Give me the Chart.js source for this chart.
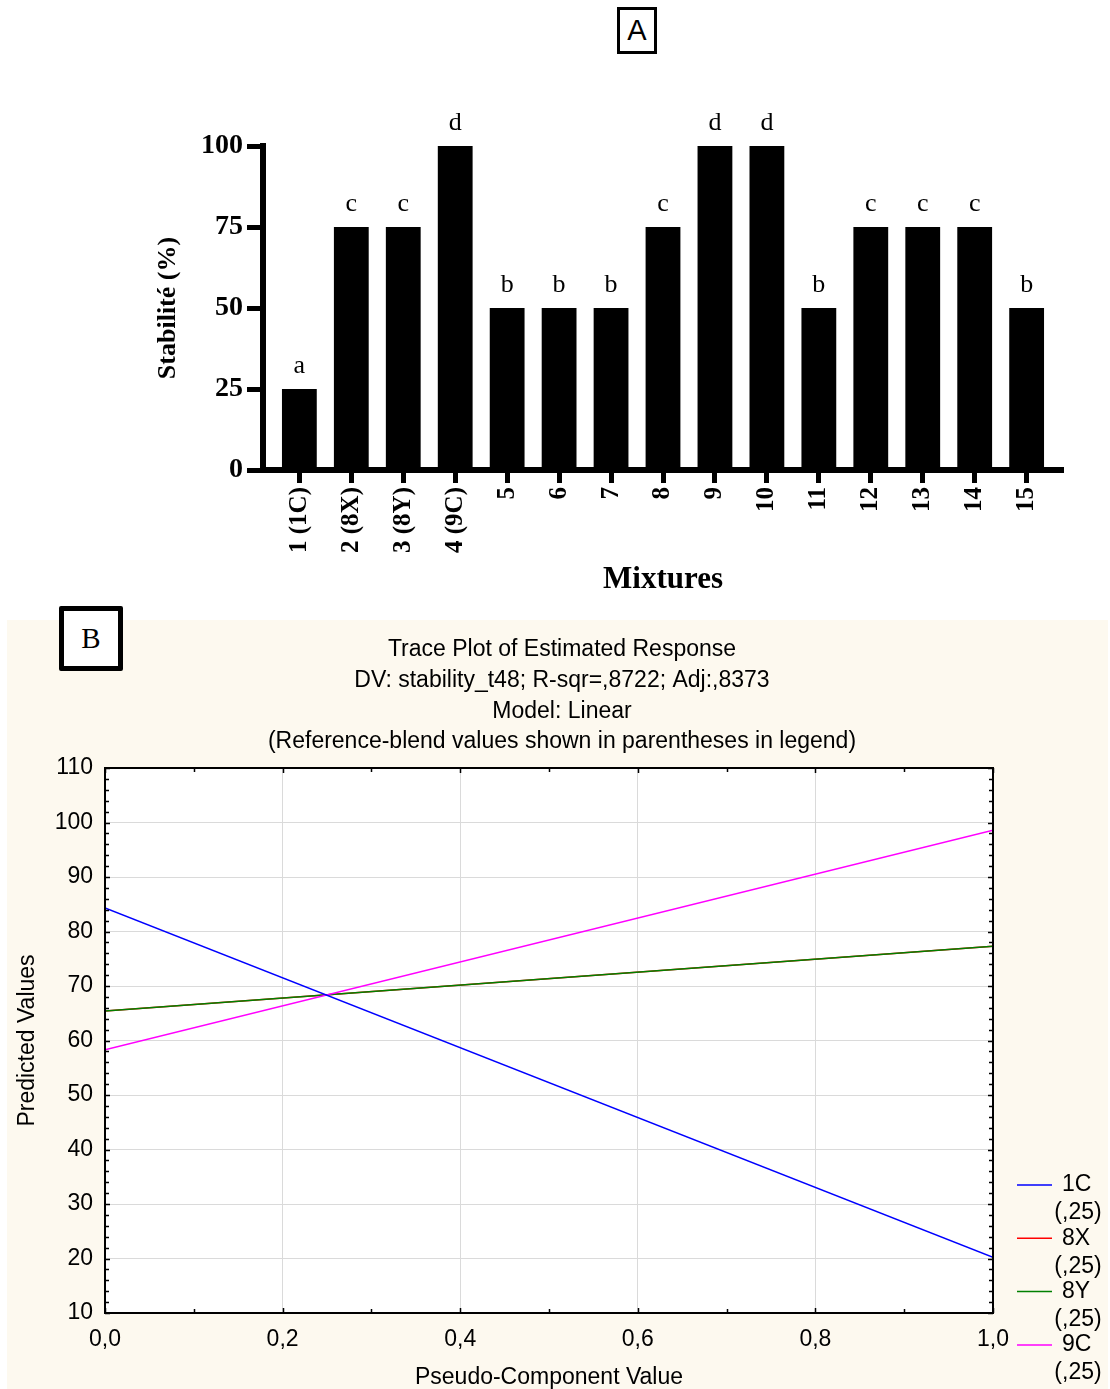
<!DOCTYPE html>
<html>
<head>
<meta charset="utf-8">
<title>Stabilité des mélanges</title>
<script src="https://cdn.jsdelivr.net/npm/chart.js@4.4.1/dist/chart.umd.min.js"></script>
<style>
  html, body { margin: 0; padding: 0; background: #fff; }
  body { width: 1110px; height: 1389px; position: relative; overflow: hidden; }
  #panelA { position: absolute; left: 0; top: 0; width: 1110px; height: 600px; }
  #panelB { position: absolute; left: 7px; top: 620px; width: 1101px; height: 769px; background: #fdf9ef; }
  canvas { display: block; }
  .tag { position: absolute; box-sizing: border-box; border: solid #000; background: #fff;
         display: flex; align-items: center; justify-content: center; color: #000; }
  #tagA { left: 617px; top: 7px; width: 40px; height: 47px; border-width: 3px;
          font: 29px "Liberation Sans", Arial, sans-serif; }
  #tagB { left: 59px; top: 606px; width: 64px; height: 65px; border-width: 5px; border-radius: 2px;
          font: 29px "Liberation Serif", "Times New Roman", serif; }
</style>
</head>
<body>
<div id="panelA"><canvas id="chartA" width="1110" height="600" style="width:1110px;height:600px"></canvas></div>
<div id="panelB"><canvas id="chartB" width="1101" height="769" style="width:1101px;height:769px"></canvas></div>
<div class="tag" id="tagA">A</div>
<div class="tag" id="tagB">B</div>

<script>
// ---- Panel A: stability of each mixture ----
const mixtures = ['1 (1C)', '2 (8X)', '3 (8Y)', '4 (9C)', '5', '6', '7', '8', '9', '10', '11', '12', '13', '14', '15'];
const stability = [25, 75, 75, 100, 50, 50, 50, 75, 100, 100, 50, 75, 75, 75, 50];
const groups = ['a', 'c', 'c', 'd', 'b', 'b', 'b', 'c', 'd', 'd', 'b', 'c', 'c', 'c', 'b'];
const stabilityTicks = [0, 25, 50, 75, 100];

// ---- Panel B: trace plot of the fitted linear model ----
const pseudoValues = [0, 1];
const pseudoTicks = [0, 0.2, 0.4, 0.6, 0.8, 1.0];
const predictedTicks = [10, 20, 30, 40, 50, 60, 70, 80, 90, 100, 110];
const componentNames = ['1C', '8X', '8Y', '9C'];
const referenceBlend = '(,25)';
const trace1C = [84.3, 20.2];
const trace8X = [65.4, 77.3];
const trace8Y = [65.4, 77.3];
const trace9C = [58.3, 98.6];
const titleLines = [
  'Trace Plot of Estimated Response',
  'DV: stability_t48; R-sqr=,8722; Adj:,8373',
  'Model: Linear',
  '(Reference-blend values shown in parentheses in legend)'
];

const serif = '"Liberation Serif", "Times New Roman", serif';
const sans = '"Liberation Sans", Arial, sans-serif';

// letters of the statistical groups above each bar
const groupLetters = {
  id: 'groupLetters',
  afterDatasetsDraw(chart) {
    const ctx = chart.ctx;
    const meta = chart.getDatasetMeta(0);
    ctx.save();
    ctx.font = '26px ' + serif;
    ctx.fillStyle = '#000';
    ctx.textAlign = 'center';
    ctx.textBaseline = 'alphabetic';
    meta.data.forEach((bar, i) => ctx.fillText(groups[i], bar.x, bar.y - 16));
    ctx.restore();
  }
};

new Chart(document.getElementById('chartA'), {
  type: 'bar',
  data: {
    datasets: [{
      data: stability.map((v, i) => ({ x: i, y: v })),
      backgroundColor: '#000',
      borderWidth: 0,
      barPercentage: 0.67,
      categoryPercentage: 1
    }]
  },
  options: {
    responsive: false,
    animation: false,
    events: [],
    layout: { padding: { top: 146, right: 47, left: 0, bottom: 0 } },
    plugins: { legend: { display: false }, tooltip: { enabled: false } },
    scales: {
      x: {
        type: 'linear',
        offset: false,
        min: -0.7,
        max: 14.7,
        afterBuildTicks: s => { s.ticks = mixtures.map((_, i) => ({ value: i })); },
        afterFit: s => { s.height = 130; },
        grid: { offset: false, drawOnChartArea: false, drawTicks: true, tickLength: 13, tickWidth: 5, tickColor: '#000' },
        border: { display: true, color: '#000', width: 6 },
        ticks: {
          autoSkip: false, minRotation: 90, maxRotation: 90, padding: 4, color: '#000',
          font: { family: serif, weight: 'bold', size: 25 },
          callback: v => mixtures[v]
        },
        title: {
          display: true, text: 'Mixtures', color: '#000',
          font: { family: serif, weight: 'bold', size: 31 },
          padding: { top: 0, bottom: 1 }
        }
      },
      y: {
        min: 0,
        max: 100,
        afterBuildTicks: s => { s.ticks = stabilityTicks.map(v => ({ value: v })); },
        afterFit: s => { s.width = 263; },
        grid: { drawOnChartArea: false, drawTicks: true, tickLength: 16, tickWidth: 5, tickColor: '#000' },
        border: { display: true, color: '#000', width: 6 },
        ticks: { padding: 4, color: '#000', font: { family: serif, weight: 'bold', size: 28 } },
        title: {
          display: true, text: 'Stabilité (%)', color: '#000',
          font: { family: serif, weight: 'bold', size: 26 },
          padding: { top: 153, bottom: 0 }
        }
      }
    }
  },
  plugins: [groupLetters]
});

// white plot area, frame with minor ticks, centred title block and legend
const tracePlotDecor = {
  id: 'tracePlotDecor',
  beforeDraw(chart) {
    const { ctx, chartArea: a } = chart;
    ctx.save();
    ctx.fillStyle = '#fff';
    ctx.fillRect(a.left, a.top, a.right - a.left, a.bottom - a.top);
    ctx.restore();
  },
  afterDatasetsDraw(chart) {
    const { ctx, chartArea: a, scales } = chart;
    ctx.save();
    ctx.strokeStyle = '#000';
    ctx.lineWidth = 1.5;
    ctx.beginPath();
    for (let v = 10; v <= 110; v += 2) {
      const y = Math.round(scales.y.getPixelForValue(v)) + 0.5;
      const len = v % 10 === 0 ? 5 : 4;
      ctx.moveTo(a.left, y); ctx.lineTo(a.left + len, y);
      ctx.moveTo(a.right, y); ctx.lineTo(a.right - len, y);
    }
    for (let k = 0; k <= 10; k++) {
      const x = Math.round(scales.x.getPixelForValue(k / 10)) + 0.5;
      const len = k % 2 === 0 ? 5 : 4;
      ctx.moveTo(x, a.top); ctx.lineTo(x, a.top + len);
      ctx.moveTo(x, a.bottom); ctx.lineTo(x, a.bottom - len);
    }
    ctx.stroke();
    ctx.lineWidth = 2;
    ctx.strokeRect(a.left, a.top, a.right - a.left, a.bottom - a.top);
    ctx.restore();
  },
  afterDraw(chart) {
    const ctx = chart.ctx;
    ctx.save();
    ctx.fillStyle = '#000';
    ctx.font = '23px ' + sans;
    ctx.textAlign = 'center';
    ctx.textBaseline = 'middle';
    titleLines.forEach((line, i) => ctx.fillText(line, 555, 30 + i * 30.7));

    chart.data.datasets.forEach((ds, i) => {
      const y = 565 + i * 53.3;
      ctx.strokeStyle = ds.borderColor;
      ctx.lineWidth = 1.5;
      ctx.beginPath();
      ctx.moveTo(1010, y); ctx.lineTo(1045, y);
      ctx.stroke();
      ctx.textAlign = 'left';
      ctx.fillText(ds.label, 1055, y);
      ctx.textAlign = 'center';
      ctx.fillText(referenceBlend, 1071, y + 28);
    });
    ctx.restore();
  }
};

const toPoints = vals => vals.map((v, i) => ({ x: pseudoValues[i], y: v }));

new Chart(document.getElementById('chartB'), {
  type: 'line',
  data: {
    datasets: [
      { label: componentNames[0], data: toPoints(trace1C), borderColor: '#0000ff', order: 0 },
      { label: componentNames[1], data: toPoints(trace8X), borderColor: '#ff0000', order: 2 },
      { label: componentNames[2], data: toPoints(trace8Y), borderColor: '#008000', order: 1 },
      { label: componentNames[3], data: toPoints(trace9C), borderColor: '#ff00ff', order: 0 }
    ]
  },
  options: {
    responsive: false,
    animation: false,
    events: [],
    elements: { point: { radius: 0 }, line: { borderWidth: 1.5, tension: 0, fill: false } },
    layout: { padding: { top: 148, right: 115, left: 0, bottom: 0 } },
    plugins: { legend: { display: false }, tooltip: { enabled: false } },
    scales: {
      x: {
        type: 'linear',
        min: 0,
        max: 1,
        afterBuildTicks: s => { s.ticks = pseudoTicks.map(v => ({ value: v })); },
        afterFit: s => { s.height = 76; },
        grid: { color: '#dadada', lineWidth: 1, drawTicks: false },
        border: { display: false },
        ticks: {
          padding: 13, color: '#000', font: { family: sans, size: 23 },
          callback: v => v.toFixed(1).replace('.', ',')
        },
        title: {
          display: true, text: 'Pseudo-Component Value', color: '#000',
          font: { family: sans, size: 23 }, padding: { top: 0, bottom: -2 }
        }
      },
      y: {
        min: 10,
        max: 110,
        afterBuildTicks: s => { s.ticks = predictedTicks.map(v => ({ value: v })); },
        afterFit: s => { s.width = 98; },
        grid: { color: '#dadada', lineWidth: 1, drawTicks: false },
        border: { display: false },
        ticks: { padding: 12, color: '#000', font: { family: sans, size: 23 } },
        title: {
          display: true, text: 'Predicted Values', color: '#000',
          font: { family: sans, size: 23 }, padding: { top: 7, bottom: 0 }
        }
      }
    }
  },
  plugins: [tracePlotDecor]
});
</script>
</body>
</html>
